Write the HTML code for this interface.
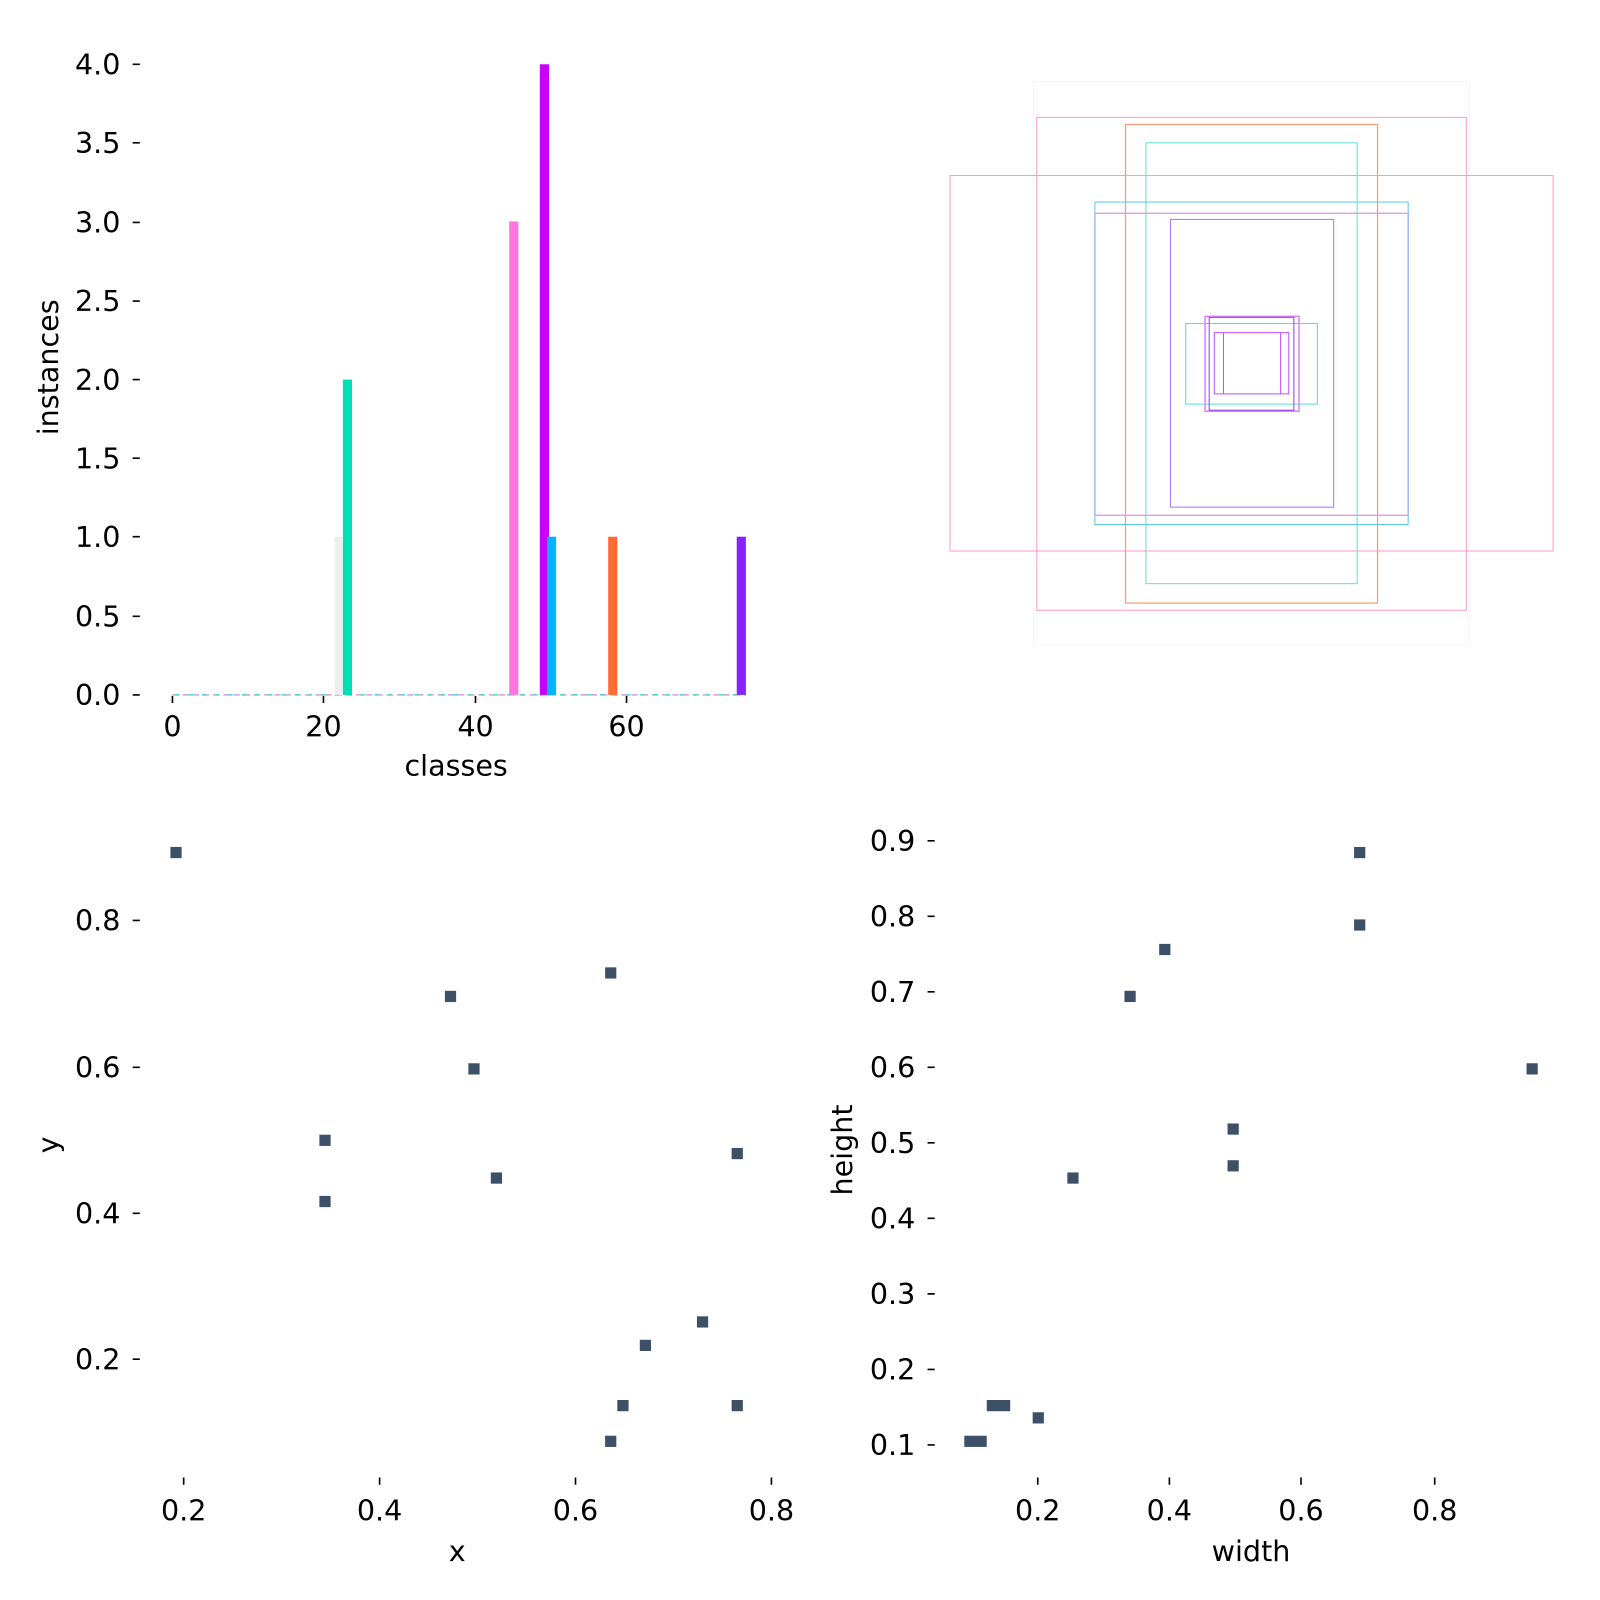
<!DOCTYPE html>
<html><head><meta charset="utf-8"><style>html,body{margin:0;padding:0;background:#fff}svg{display:block}</style></head><body>
<svg xmlns="http://www.w3.org/2000/svg" width="1600" height="1600" viewBox="0 0 1568 1568">
<rect width="1568" height="1568" fill="#fff"/>
<g font-family="DejaVu Sans, Liberation Sans, sans-serif" font-size="28" fill="#000">
<!-- top-left bars -->
<g text-anchor="end">
<text x="118" y="73">4.0</text><text x="118" y="150">3.5</text><text x="118" y="228">3.0</text>
<text x="118" y="305">2.5</text><text x="118" y="382">2.0</text><text x="118" y="459">1.5</text>
<text x="118" y="536">1.0</text><text x="118" y="614">0.5</text><text x="118" y="691">0.0</text>
</g>
<g stroke="#000" stroke-width="1.6">
<path d="M130 63h7M130 140h7M130 218h7M130 295h7M130 372h7M130 449h7M130 526h7M130 604h7M130 681h7"/>
<path d="M169 682v7M317 682v7M466 682v7M614 682v7"/>
</g>
<line x1="169" y1="681" x2="731" y2="681" stroke="#c8a0e0" stroke-width="1.5" stroke-dasharray="6 4"/>
<line x1="172" y1="681" x2="731" y2="681" stroke="#40e0c0" stroke-width="1.5" stroke-dasharray="4 9"/>
<rect x="328" y="526" width="8" height="155" fill="#eeeeee"/>
<rect x="336" y="372" width="9" height="309" fill="#00dfb7"/>
<rect x="499" y="217" width="9" height="464" fill="#ff77dd"/>
<rect x="529" y="63" width="9" height="618" fill="#c800ff"/>
<rect x="536" y="526" width="9" height="155" fill="#00b4ff"/>
<rect x="596" y="526" width="9" height="155" fill="#ff6b35"/>
<rect x="722" y="526" width="9" height="155" fill="#8a22ff"/>
<g text-anchor="middle">
<text x="169" y="722">0</text><text x="317" y="722">20</text><text x="466" y="722">40</text><text x="614" y="722">60</text>
<text x="447" y="760">classes</text>
</g>
<text transform="translate(57 360) rotate(-90)" text-anchor="middle">instances</text>
<!-- top-right boxes -->
<g fill="none" stroke-width="1">
<rect x="1013" y="80" width="427" height="552" stroke="#f4f4f4"/>
<rect x="1016" y="115" width="421" height="483" stroke="#ff99cc"/>
<rect x="1103" y="122" width="247" height="469" stroke="#f0a080" stroke-width="1.3"/>
<rect x="1123" y="140" width="207" height="432" stroke="#60e0d0"/>
<rect x="931" y="172" width="591" height="368" stroke="#ff99cc"/>
<rect x="1073" y="198" width="307" height="316" stroke="#60c8e8"/>
<rect x="1073" y="209" width="307" height="296" stroke="#8fa0ff"/>
<path d="M1073 209h307M1073 505h307" stroke="#ff88dd"/>
<rect x="1147" y="215" width="160" height="282" stroke="#b070f0"/>
<rect x="1162" y="317" width="129" height="79" stroke="#50e0d0"/>
<rect x="1181" y="310" width="92" height="93" stroke="#e080ff" stroke-width="1.5"/>
<rect x="1185" y="311" width="83" height="91" stroke="#9040f0"/>
<rect x="1190" y="326" width="73" height="60" stroke="#c050ff"/>
<path d="M1199 326v60M1255 326v60" stroke="#c050ff"/>
</g>
<!-- bottom-left scatter -->
<g text-anchor="end">
<text x="118" y="912">0.8</text><text x="118" y="1056">0.6</text><text x="118" y="1199">0.4</text><text x="118" y="1342">0.2</text>
</g>
<g stroke="#000" stroke-width="1.6">
<path d="M130 902h7M130 1046h7M130 1189h7M130 1332h7"/>
<path d="M180 1448v7M372 1448v7M564 1448v7M756 1448v7"/>
<path d="M909 824h7M909 898h7M909 972h7M909 1046h7M909 1120h7M909 1194h7M909 1268h7M909 1342h7M909 1416h7"/>
<path d="M1017 1448v7M1146 1448v7M1275 1448v7M1406 1448v7"/>
</g>
<g text-anchor="middle">
<text x="180" y="1490">0.2</text><text x="372" y="1490">0.4</text><text x="564" y="1490">0.6</text><text x="756" y="1490">0.8</text>
<text x="448" y="1530">x</text>
<text x="1017" y="1490">0.2</text><text x="1146" y="1490">0.4</text><text x="1275" y="1490">0.6</text><text x="1406" y="1490">0.8</text>
<text x="1226" y="1530">width</text>
</g>
<text transform="translate(57 1122) rotate(-90)" text-anchor="middle">y</text>
<g text-anchor="end">
<text x="897" y="834">0.9</text><text x="897" y="908">0.8</text><text x="897" y="982">0.7</text><text x="897" y="1056">0.6</text>
<text x="897" y="1130">0.5</text><text x="897" y="1204">0.4</text><text x="897" y="1278">0.3</text><text x="897" y="1352">0.2</text><text x="897" y="1426">0.1</text>
</g>
<text transform="translate(835 1127) rotate(-90)" text-anchor="middle">height</text>
<g fill="#3d5068">
<rect x="167" y="830" width="11" height="11"/><rect x="436" y="971" width="11" height="11"/>
<rect x="593" y="948" width="11" height="11"/><rect x="459" y="1042" width="11" height="11"/>
<rect x="313" y="1112" width="11" height="11"/><rect x="717" y="1125" width="11" height="11"/>
<rect x="481" y="1149" width="11" height="11"/><rect x="313" y="1172" width="11" height="11"/>
<rect x="683" y="1290" width="11" height="11"/><rect x="627" y="1313" width="11" height="11"/>
<rect x="605" y="1372" width="11" height="11"/><rect x="717" y="1372" width="11" height="11"/>
<rect x="593" y="1407" width="11" height="11"/>
<rect x="1327" y="830" width="11" height="11"/><rect x="1327" y="901" width="11" height="11"/>
<rect x="1136" y="925" width="11" height="11"/><rect x="1102" y="971" width="11" height="11"/>
<rect x="1496" y="1042" width="11" height="11"/><rect x="1203" y="1101" width="11" height="11"/>
<rect x="1203" y="1137" width="11" height="11"/><rect x="1046" y="1149" width="11" height="11"/>
<rect x="945" y="1407" width="22" height="11"/><rect x="967" y="1372" width="23" height="11"/>
<rect x="1012" y="1384" width="11" height="11"/>
</g>
</g>
</svg>
</body></html>
